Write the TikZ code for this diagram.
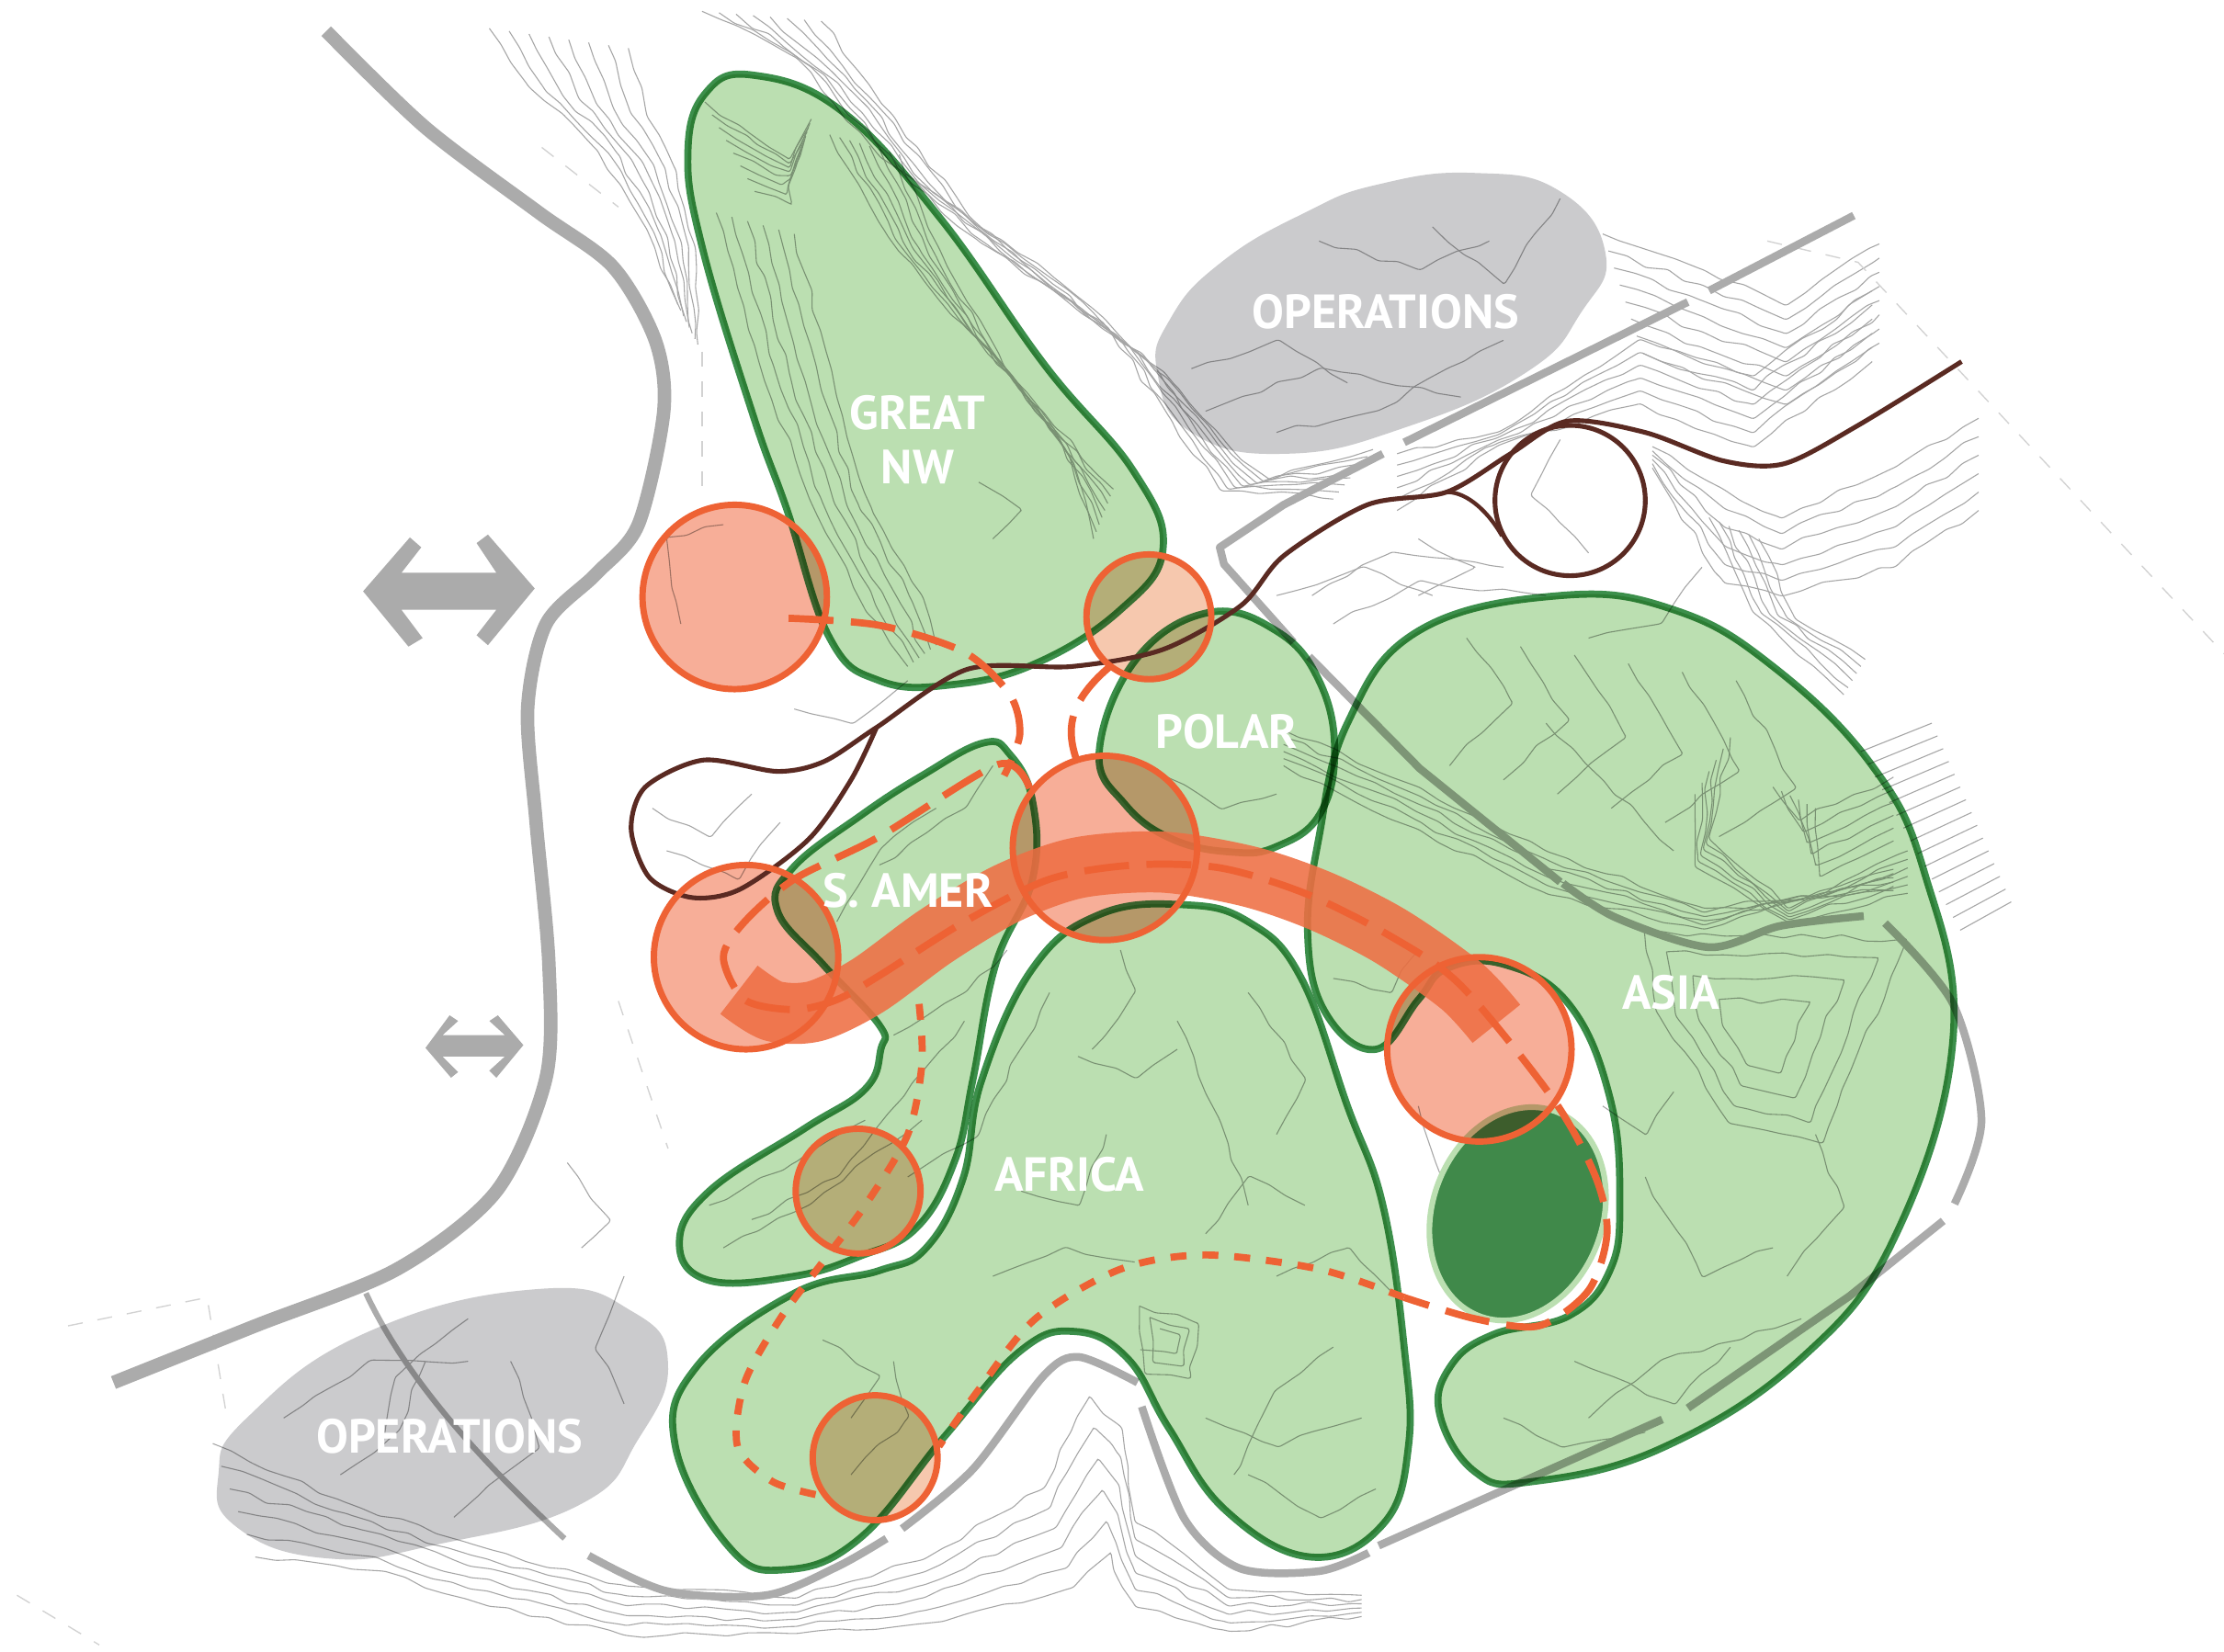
\documentclass[tikz,border=0pt]{standalone}
\usepackage{xcolor}
\usepackage{fontspec}
\setmainfont{PT Sans}
\usepackage{tikz}
\usetikzlibrary{decorations.pathmorphing}

\definecolor{zonefill}{HTML}{BBDFB1}
\definecolor{zoneline}{HTML}{3C8F4B}
\definecolor{zonedark}{HTML}{40894A}
\definecolor{stopfill}{HTML}{F7AE98}
\definecolor{stoplight}{HTML}{F6C8AE}
\definecolor{stopline}{HTML}{EE6234}
\definecolor{roadgray}{HTML}{ABABAB}
\definecolor{opsgray}{HTML}{CBCBCD}
\definecolor{trainline}{HTML}{5A2A22}

\tikzset{
    contour/.style={gray!70, line width=.2pt},
    wiggly/.style={contour, rounded corners=.5pt, decorate, decoration={random steps, segment length=4pt, amplitude=.6pt}},
    boundary/.style={gray!35, line width=.25pt, dashed},
    road/.style={roadgray, line width=.055cm},
    zone/.style={fill=zonefill, draw=zoneline, line width=.05cm},
    opszone/.style={fill=opsgray},
    trail/.style={stopline, line width=.05cm, dash pattern=on 9pt off 3.5pt},
    shorttrail/.style={stopline, line width=.05cm, dash pattern=on 3.2pt off 3.2pt},
    zonelabel/.style={white, font=\bfseries\fontsize{9.6}{11}\selectfont, inner sep=0pt, align=center},
    gate/.style={fill=roadgray},
}

\def\stoplist{518/421/65/stopfill, 810/435/44/stoplight, 779/598/65/stopfill, 526/675/65/stopfill, 1043/740/65/stopfill, 605/840/44/stoplight, 617/1028/44/stoplight}

\begin{document}
\begin{tikzpicture}[x=.01cm, y=-.01cm, line join=round]
    \pgfmathsetseed{7}
    \fill[white] (0,0) rectangle (1568,1165);
    \useasboundingbox (0,0) rectangle (1568,1165);

    % Contours north
    \foreach \d in {0,1,...,7} {
        \draw[wiggly] plot coordinates {({345+\d*14},{20+\d*2}) ({372+\d*12},{60+\d*3}) ({420+\d*8},{105+\d*2}) ({455+\d*5},{160+\d*2}) ({478+\d*2},{215+\d*4})};
        \draw[wiggly] plot coordinates {({495+\d*12},{8+\d}) ({560+\d*10},{40+\d*6}) ({620+\d*9},{110+\d*6}) ({690+\d*8},{170+\d*4}) ({780+\d*7},{230+\d*6}) ({825+\d*7},{295+\d*4}) ({860+\d*5},{345-\d}) ({940+\d*4},{352-\d*5})};
        \draw[wiggly] plot coordinates {({497+\d*5},{72+\d*9}) ({530+\d*4},{95+\d*7}) ({556},{112+\d*3}) ({572-\d},{84+\d*3})};
        \draw[wiggly] plot coordinates {({585+\d*7},{95+\d*2}) ({625+\d*6},{165+\d*3}) ({680+\d*4},{230+\d*4}) ({735+\d*3},{290+\d*5}) ({785-\d*2},{345+\d*5})};
        \draw[wiggly] plot coordinates {({1130+\d*4},{165+\d*12}) ({1200},{190+\d*11}) ({1258},{215+\d*10}) ({1325},{172+\d*10})};
    }
    \foreach \d in {0,1,...,5} {
        \draw[wiggly] plot coordinates {({505+\d*11},{150+\d*3}) ({535+\d*11},{255+\d*5}) ({570+\d*9},{350+\d*2}) ({610+\d*8},{430-\d*2}) ({640+\d*4},{470-\d*3})};
        % Contours north-east
        \draw[wiggly] plot coordinates {({985},{320+\d*8}) ({1055},{305+\d*2}) ({1155},{240+\d*9}) ({1235},{265+\d*10}) ({1320},{205+\d*10})};
        \draw[wiggly] plot coordinates {({1165},{315+\d*3}) ({1215},{345+\d*13}) ({1255},{365+\d*11}) ({1335},{330+\d*14}) ({1395},{295+\d*13})};
        \draw[wiggly] plot coordinates {({1205+\d*7},{365+\d*3}) ({1235+\d*6},{430+\d}) ({1300+\d*3},{490-\d*5})};
        % Contours inside Asia
        \draw[wiggly] plot coordinates {({1034+\d*38},{450+\d*6}) ({1066+\d*40},{495+\d*12}) ({1022+\d*38},{540+\d*10})};
        \draw[wiggly] plot coordinates {(905,{515+\d*5}) (1000,{555+\d*6}) (1090,{600+\d*6}) (1200,{640+\d*3}) (1335,{628-\d*3})};
        % Contours south
        \draw[wiggly] plot coordinates {({150+\d*6},{1018+\d*16}) ({240+\d*6},{1058+\d*10}) ({330},{1088+\d*8}) ({440},{1118+\d*7}) ({560},{1127+\d*5}) ({650},{1100+\d*9}) ({735+\d*4},{1050+\d*14}) ({768+\d*3},{985+\d*22}) ({790-\d},{1006+\d*20}) ({800},{1072+\d*12}) ({865},{1120+\d*6}) ({960},{1125+\d*3})};
    }
    \foreach \d in {0,1,...,5} {
        \draw[wiggly] plot coordinates {({1250+\d*6},{555+\d*3}) ({1268+\d*3},{578+\d*8}) ({1335},{548+\d*9})};
        \draw[wiggly] plot coordinates {({1220-\d*5},{520+\d*8}) ({1205-\d*2},{590+\d*4}) ({1260},{640+\d*2}) ({1345},{600+\d*6})};
    }
    \foreach \i in {0,1,...,14}
        \draw[contour] (1312+\i*5,530+\i*9) -- (1362+\i*4,510+\i*9);
    \foreach \s in {.45,.75,1.05,1.3}
        \draw[wiggly] plot coordinates {({1240+\s*(-62)},{730+\s*(-56)}) ({1240+\s*80},{730+\s*(-52)}) ({1240+\s*35},{730+\s*58}) ({1240+\s*(-15)},{730+\s*48}) ({1240+\s*(-55)},{730+\s*(-12)}) ({1240+\s*(-62)},{730+\s*(-56)})};
    \foreach \s in {.4,.8,1.2}
        \draw[wiggly] plot coordinates {({825+\s*(-18)},{945+\s*(-20)}) ({825+\s*16},{945+\s*(-10)}) ({825+\s*12},{945+\s*22}) ({825+\s*(-14)},{945+\s*20}) ({825+\s*(-18)},{945+\s*(-20)})};

    % Scattered contours
    \foreach \a/\b/\c/\d/\e/\f in {
        740/700/690/800/640/830, 760/745/800/760/830/740, 880/700/920/760/900/800, 850/870/880/830/920/850,
        700/900/750/880/800/890, 580/945/620/970/600/1000, 900/900/950/880/980/910, 850/1000/900/1020/960/1000,
        880/1040/930/1070/970/1050, 1160/830/1200/900/1250/880, 1120/1000/1170/960/1270/930, 1060/1000/1100/1020/1160/1010,
        1280/800/1300/850/1260/900, 1000/780/1020/840/1010/880, 940/690/980/700/1000/670, 1130/780/1160/800/1180/770,
        500/850/560/820/610/790, 510/880/570/850/650/790, 630/730/680/700/710/670, 530/860/590/830/680/720,
        620/610/680/570/700/540, 590/650/620/600/660/570, 460/570/500/590/530/560, 470/600/520/620/550/580,
        560/500/600/510/640/480, 810/540/860/570/900/560, 480/440/470/380/510/370, 700/380/720/360/690/340,
        200/1000/260/960/330/960, 240/1040/280/1010/300/960, 360/960/380/1020/320/1070, 330/930/280/970/270/1020,
        1000/380/1040/400/1000/420, 900/420/960/400/1010/420, 1120/390/1080/350/1100/310, 930/170/1000/190/1050/170,
        840/260/900/240/950/270, 850/290/930/260/1030/280, 900/305/970/290/1060/240, 1010/160/1060/200/1100/140,
        400/820/430/860/410/880, 440/900/420/950/440/990, 925/420/980/390/1060/400, 940/440/1000/410/1090/420,
        1120/450/1170/440/1200/400, 770/740/800/700/790/670, 720/840/760/850/780/800, 600/1040/640/1000/630/960,
        830/720/860/790/880/850, 940/950/900/980/870/1040, 1110/960/1180/990/1220/950, 1180/600/1130/550/1090/510}
        \draw[wiggly] plot coordinates {(\a,\b) (\c,\d) (\e,\f)};

    % Property lines
    \draw[boundary] (1246,170) -- (1310,185) -- (1568,461);
    \draw[boundary] (382,104) -- (436,146);
    \draw[boundary] (495,248) -- (495,347);
    \draw[boundary] (436,706) -- (471,810);
    \draw[boundary] (48,935) -- (146,915) -- (160,1000);
    \draw[boundary] (12,1125) -- (70,1160);

    % Roads
    \draw[road, line width=.095cm] plot[smooth] coordinates {(230,22) (300,90) (380,150) (432,188) (462,240) (468,290) (450,370) (420,405) (385,440) (372,500) (378,580) (387,680) (385,760) (350,840) (280,895) (180,935) (80,975)};
    \draw[road, line width=.04cm] (258,912) .. controls (290,980) and (350,1040) .. (398,1085);
    \draw[road] plot[smooth] coordinates {(415,1097) (470,1122) (540,1125) (590,1105) (625,1085)};
    \draw[road] plot[smooth] coordinates {(636,1078) (686,1036) (736,970) (761,957) (802,975)};
    \draw[road] plot[smooth] coordinates {(805,992) (835,1071) (874,1106) (930,1108) (965,1095)};
    \draw[road] (972,1090) -- (1172,1001);
    \draw[road] (1190,993) -- (1304,914) -- (1370,861);
    \draw[road] plot[smooth] coordinates {(1378,849) (1397,790) (1377,708) (1329,651)};
    \draw[road] plot[smooth] coordinates {(1314,646) (1255,653) (1205,668) (1139,647) (1102,623)};
    \draw[road] (1100,622) -- (1001,542) -- (923,463);
    \draw[road] (912,453) -- (863,398) -- (860,386) -- (905,356) -- (975,320);
    \draw[road] (990,312) -- (1190,213);
    \draw[road] (1205,205) -- (1307,152);

    % Operations
    \begin{scope}[blend mode=multiply]
        \fill[opszone] plot[smooth cycle, tension=.8] coordinates {(816,263) (825,225) (861,185) (920,150) (972,130) (1040,122) (1100,135) (1132,179) (1115,220) (1077,262) (992,301) (907,320) (840,305)};
        \fill[opszone] plot[smooth cycle, tension=.8] coordinates {(380,909) (446,925) (471,962) (450,1015) (409,1061) (309,1089) (231,1099) (167,1077) (154,1040) (175,999) (260,939)};
    \end{scope}

    % Zones
    \begin{scope}[blend mode=multiply]
        \draw[zone] plot[smooth cycle, tension=.7] coordinates {(531,53) (498,65) (485,107) (495,174) (531,293) (555,360) (585,450) (620,480) (670,483) (730,468) (790,430) (820,387) (799,332) (737,258) (663,154) (593,78)};
        \draw[zone] plot[smooth cycle, tension=.7] coordinates {(852,432) (900,445) (930,480) (941,530) (930,575) (900,597) (870,601) (827,592) (793,567) (775,530) (801,465)};
        \draw[zone] plot[smooth cycle, tension=.7] coordinates {(693,524) (650,547) (607,575) (559,612) (548,642) (581,681) (620,723) (621,740) (610,768) (567,796) (500,840) (479,877) (500,903) (560,900) (606,886) (646,866) (673,819) (686,761) (702,680) (728,620) (728,565) (712,532)};
        \draw[zone] plot[smooth cycle, tension=.7] coordinates {(834,638) (880,650) (917,689) (950,780) (975,850) (990,950) (993,1020) (975,1075) (924,1098) (864,1065) (824,1007) (795,958) (758,939) (719,953) (666,1013) (606,1085) (553,1107) (514,1091) (476,1019) (491,964) (560,912) (620,896) (653,880) (679,831) (692,762) (728,683) (775,645)};
        \draw[zone] plot[smooth cycle, tension=.7] coordinates {(1100,420) (1000,445) (950,510) (930,590) (922,660) (935,715) (970,740) (1000,705) (1020,683) (1060,680) (1106,708) (1135,774) (1142,847) (1135,896) (1106,928) (1053,941) (1023,963) (1015,997) (1040,1038) (1079,1045) (1172,1021) (1271,957) (1337,870) (1377,732) (1357,616) (1320,540) (1250,470) (1180,430)};
    \end{scope}

    % Dark zone
    \draw[fill=zonedark, draw=zonefill, line width=.04cm, rotate around={-20:(1070,856)}] (1070,856) ellipse (60 and 77);

    % Stops
    \begin{scope}[blend mode=multiply]
        \foreach \cx/\cy/\r/\c in \stoplist
            \fill[\c] (\cx,\cy) circle (\r);
    \end{scope}

    % Main walk
    \draw[stopline!92!white, line width=.43cm, opacity=.88] plot[smooth] coordinates {(521,698) (545,713) (575,713) (612,695) (660,660) (710,630) (760,612) (820,608) (880,618) (930,635) (980,660) (1030,695) (1055,722)};

    % Train
    \draw[trainline, line width=.033cm] plot[smooth] coordinates {(1383,255) (1310,300) (1258,327) (1215,325) (1160,305) (1105,297) (1065,320) (1020,347) (964,356) (905,392) (875,427) (820,458) (756,470) (682,472) (618,513) (581,537) (548,544) (496,536) (455,555) (445,585) (458,619) (488,633) (522,627) (570,592) (600,550) (618,513)};
    \draw[trainline, line width=.033cm] (1107,353) circle (53);
    \draw[trainline, line width=.028cm] (1020,347) .. controls (1035,347) and (1050,362) .. (1059,378);

    % Trails
    \draw[trail] plot[smooth] coordinates {(556,436) (620,441) (680,460) (712,490) (719,518) (708,547)};
    \draw[trail] (759,536) .. controls (752,515) and (752,495) .. (785,468);
    \draw[trail] plot[smooth] coordinates {(726,556) (704,539) (620,590) (560,620) (525,650) (510,675) (525,705) (560,712) (590,705) (620,688) (680,650) (740,620) (800,610) (860,612) (920,630) (980,660) (1030,695) (1095,775) (1125,830) (1133,870) (1120,910) (1085,935) (1040,930) (990,915)};
    \draw[shorttrail] plot[smooth] coordinates {(990,915) (930,895) (850,885) (790,895) (730,930) (690,980) (662,1020)};
    \draw[shorttrail] plot[smooth] coordinates {(648,708) (650,750) (640,800) (610,850) (580,890) (550,930) (525,975) (520,1020) (545,1045) (580,1055)};

    % Stop outlines
    \foreach \cx/\cy/\r/\c in \stoplist
        \draw[stopline, line width=.045cm] (\cx,\cy) circle (\r);

    % Entry arrows
    \fill[gate] (256,417) -- (289,379) -- (297,386) -- (283,404) -- (350,404) -- (336,383) -- (344,377) -- (377,415) -- (344,455) -- (336,448) -- (350,430) -- (283,430) -- (298,450) -- (288,456) -- cycle;
    \fill[gate] (300,739) -- (317,716) -- (323,720) -- (312,730) -- (356,730) -- (345,720) -- (351,716) -- (369,737) -- (350,760) -- (345,755) -- (356,745) -- (312,745) -- (323,756) -- (318,760) -- cycle;

    % Labels
    \node[zonelabel] (opsnorth) at (977,220) {OPERATIONS};
    \node[zonelabel] (opssouth) at (317,1013) {OPERATIONS};
    \node[zonelabel] (greatnw) at (647,310) {GREAT\\NW};
    \node[zonelabel] (polar) at (865,516) {POLAR};
    \node[zonelabel] (samer) at (640,628) {S. AMER};
    \node[zonelabel] (africa) at (754,828) {AFRICA};
    \node[zonelabel] (asia) at (1178,700) {ASIA};
\end{tikzpicture}
\end{document}
